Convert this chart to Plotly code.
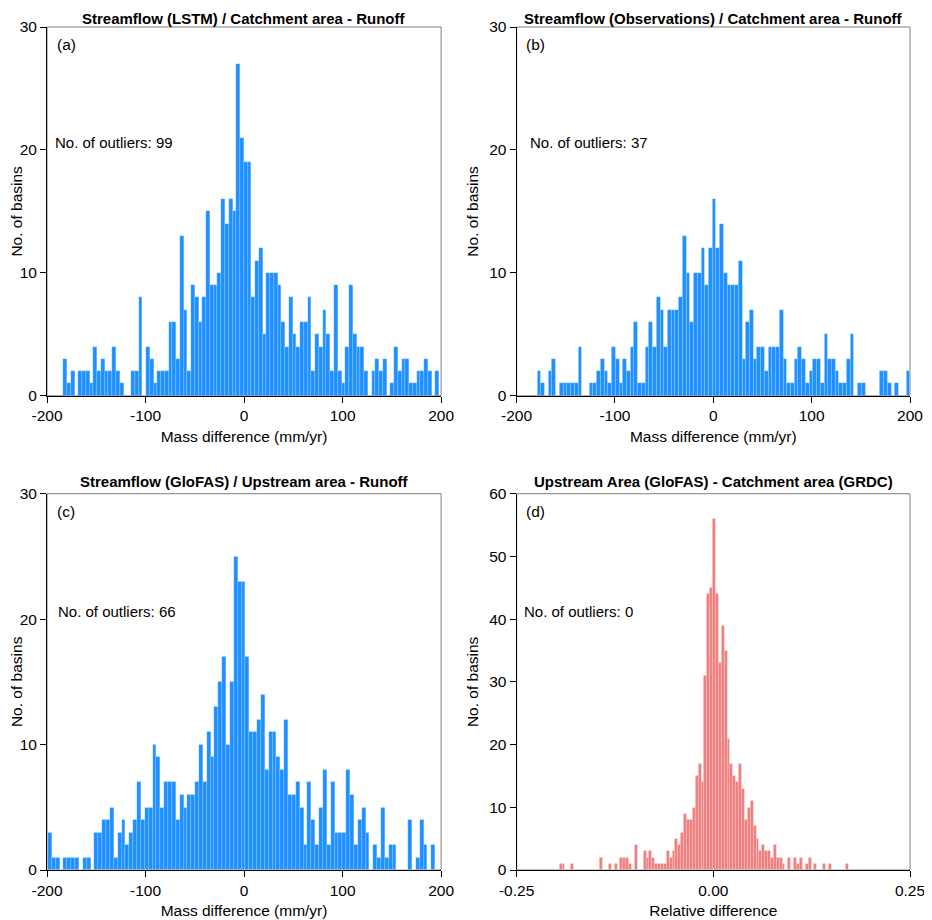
import numpy as np
import plotly.graph_objects as go
from plotly.subplots import make_subplots

# Histogram counts (100 bins per panel)
counts_lstm = [3, 1, 2, 0, 2, 2, 2, 1, 4, 2, 3, 2, 2, 4, 2, 1, 0, 0, 2, 2,
               8, 0, 4, 3, 1, 2, 2, 2, 6, 6, 3, 13, 7, 2, 9, 8, 6, 8, 15, 9,
               9, 10, 16, 14, 16, 15, 27, 21, 19, 19, 8, 11, 12, 5, 10, 10, 10, 9, 6, 4,
               8, 5, 4, 6, 6, 8, 2, 5, 4, 7, 5, 2, 9, 2, 1, 4, 9, 5, 4, 4,
               2, 0, 2, 3, 2, 3, 0, 1, 4, 2, 3, 3, 1, 1, 2, 2, 3, 2, 0, 2]
counts_obs = [2, 1, 0, 2, 3, 0, 1, 1, 1, 1, 1, 4, 0, 0, 1, 1, 2, 3, 2, 1,
              4, 3, 1, 3, 2, 4, 6, 1, 1, 4, 6, 4, 8, 7, 4, 7, 7, 7, 8, 13,
              10, 6, 10, 10, 12, 9, 12, 16, 12, 14, 10, 9, 9, 9, 11, 3, 6, 7, 3, 4,
              4, 2, 4, 4, 4, 7, 3, 1, 1, 3, 4, 3, 1, 2, 3, 3, 1, 5, 3, 3,
              2, 1, 1, 3, 5, 0, 1, 1, 0, 0, 0, 0, 2, 2, 1, 0, 1, 0, 0, 2]
counts_glofas = [3, 1, 1, 0, 1, 1, 1, 1, 0, 1, 1, 0, 3, 3, 4, 4, 5, 1, 3, 4,
                 2, 3, 4, 7, 4, 5, 5, 10, 9, 5, 7, 7, 7, 4, 6, 5, 6, 6, 7, 10,
                 7, 11, 9, 13, 15, 17, 10, 15, 25, 23, 23, 17, 11, 11, 12, 14, 8, 11, 11, 9,
                 8, 12, 6, 6, 7, 5, 2, 7, 4, 2, 5, 8, 2, 7, 3, 3, 3, 8, 6, 2,
                 4, 5, 3, 0, 2, 1, 5, 1, 2, 2, 0, 0, 0, 4, 0, 1, 4, 2, 0, 2]
counts_area = [1, 1, 0, 0, 1, 0, 0, 0, 0, 0, 0, 0, 0, 0, 2, 0, 0, 1, 0, 1,
               0, 2, 2, 2, 1, 0, 4, 0, 0, 3, 2, 3, 2, 1, 1, 1, 1, 3, 2, 3,
               5, 4, 6, 9, 8, 8, 10, 15, 17, 14, 31, 44, 45, 56, 44, 33, 39, 35, 21, 17,
               15, 14, 17, 13, 8, 10, 11, 7, 5, 3, 4, 3, 3, 2, 4, 2, 2, 1, 0, 2,
               0, 2, 1, 2, 0, 1, 2, 0, 1, 0, 0, 1, 0, 1, 0, 0, 0, 0, 0, 1]

# Bin edges (first edge, bin width)
bins_lstm = (-183.4, 3.815)
bins_obs = (-179.1, 3.79)
bins_glofas = (-199.0, 3.93)
bins_area = (-0.1958, 0.00368)

titles = ['Streamflow (LSTM) / Catchment area - Runoff',
          'Streamflow (Observations) / Catchment area - Runoff',
          'Streamflow (GloFAS) / Upstream area - Runoff',
          'Upstream Area (GloFAS) - Catchment area (GRDC)']
panel_labels = ['(a)', '(b)', '(c)', '(d)']
outliers = [99, 37, 66, 0]

mass_ticks = [-200, -100, 0, 100, 200]
mass_ticktext = ['-200', '-100', '0', '100', '200']
rel_ticks = [-0.25, 0.0, 0.25]
rel_ticktext = ['-0.25', '0.00', '0.25']

FONT = 'Liberation Sans, Arial, sans-serif'
BLUE = '#1E90FF'
RED = '#F08080'

fig = make_subplots(rows=2, cols=2)

panels = [
    (counts_lstm, bins_lstm, BLUE, 1, 1),
    (counts_obs, bins_obs, BLUE, 1, 2),
    (counts_glofas, bins_glofas, BLUE, 2, 1),
    (counts_area, bins_area, RED, 2, 2),
]

for counts, (start, width), color, r, c in panels:
    centers = start + width * (np.arange(len(counts)) + 0.5)
    fig.add_trace(
        go.Bar(x=centers, y=counts, width=width,
               marker=dict(color=color, line=dict(width=0.4, color='rgba(255,255,255,0.45)')),
               showlegend=False),
        row=r, col=c
    )

# the page body adds an 8px offset, so the figure is 8px smaller;
# positions below are in figure pixels
W, H = 924, 912
left, right = 39.3, 902.5
top_row = (19.0, 388.0)      # top, bottom
bot_row = (486.0, 862.5)
col1 = (39.3, 433.5)
col2 = (509.0, 902.5)
ml, mr, mt, mb = left, W - right, top_row[0], H - bot_row[1]
pw, ph = right - left, bot_row[1] - top_row[0]


def xd(a, b):
    return [(a - left) / pw, (b - left) / pw]


def yd(t, b):
    return [(bot_row[1] - b) / ph, (bot_row[1] - t) / ph]


xdom = [xd(*col1), xd(*col2)]
ydom = [yd(*top_row), yd(*bot_row)]

axis_style = dict(showline=True, linecolor='black', linewidth=1, ticks='outside',
                  ticklen=6, tickcolor='black', showgrid=False, zeroline=False,
                  automargin=False,
                  tickfont=dict(family=FONT, size=15.5, color='black'),
                  title_font=dict(family=FONT, size=15.5, color='black'))

for i, (r, c) in enumerate([(1, 1), (1, 2), (2, 1), (2, 2)]):
    n = i + 1
    xa = 'xaxis' if n == 1 else f'xaxis{n}'
    ya = 'yaxis' if n == 1 else f'yaxis{n}'
    if n < 4:
        xcfg = dict(range=[-200, 200], tickvals=mass_ticks, ticktext=mass_ticktext,
                    title=dict(text='Mass difference (mm/yr)', standoff=7))
        ycfg = dict(range=[0, 30], tickvals=[0, 10, 20, 30],
                    title=dict(text='No. of basins', standoff=6))
    else:
        xcfg = dict(range=[-0.25, 0.25], tickvals=rel_ticks, ticktext=rel_ticktext,
                    title=dict(text='Relative difference', standoff=7))
        ycfg = dict(range=[0, 60], tickvals=[0, 10, 20, 30, 40, 50, 60],
                    title=dict(text='No. of basins', standoff=6))
    fig.layout[xa].update(domain=xdom[c - 1], **axis_style, **xcfg)
    fig.layout[ya].update(domain=ydom[r - 1], **axis_style, **ycfg)

    xref = 'x domain' if n == 1 else f'x{n} domain'
    yref = 'y domain' if n == 1 else f'y{n} domain'
    # light frame on the top and right
    fig.add_shape(type='rect', xref=xref, yref=yref, x0=0, x1=1, y0=0, y1=1,
                  line=dict(color='#808080', width=1), layer='below')
    # panel title
    fig.add_annotation(xref=xref, yref=yref, x=0.5, y=1, yanchor='middle',
                       yshift=9 if r == 1 else 12,
                       text='<b>' + titles[i] + '</b>', showarrow=False,
                       font=dict(family=FONT, size=15, color='black'))
    # panel letter
    fig.add_annotation(xref=xref, yref=yref, x=0.02, y=1, xanchor='left',
                       yanchor='middle', yshift=-17.5, text=panel_labels[i],
                       showarrow=False,
                       font=dict(family=FONT, size=15.5, color='black'))
    # outlier count
    ox = [0.015, 0.029, 0.022, 0.013][i]
    fig.add_annotation(xref=xref, yref=yref, x=ox, y=0.688, xanchor='left',
                       yanchor='middle', text=f'No. of outliers: {outliers[i]}',
                       showarrow=False,
                       font=dict(family=FONT, size=15, color='black'))

fig.update_layout(
    width=W, height=H, autosize=False,
    margin=dict(l=ml, r=mr, t=mt, b=mb, pad=0),
    bargap=0,
    plot_bgcolor='white', paper_bgcolor='white',
    font=dict(family=FONT, size=15, color='black'),
)

fig.write_html('out.html')
